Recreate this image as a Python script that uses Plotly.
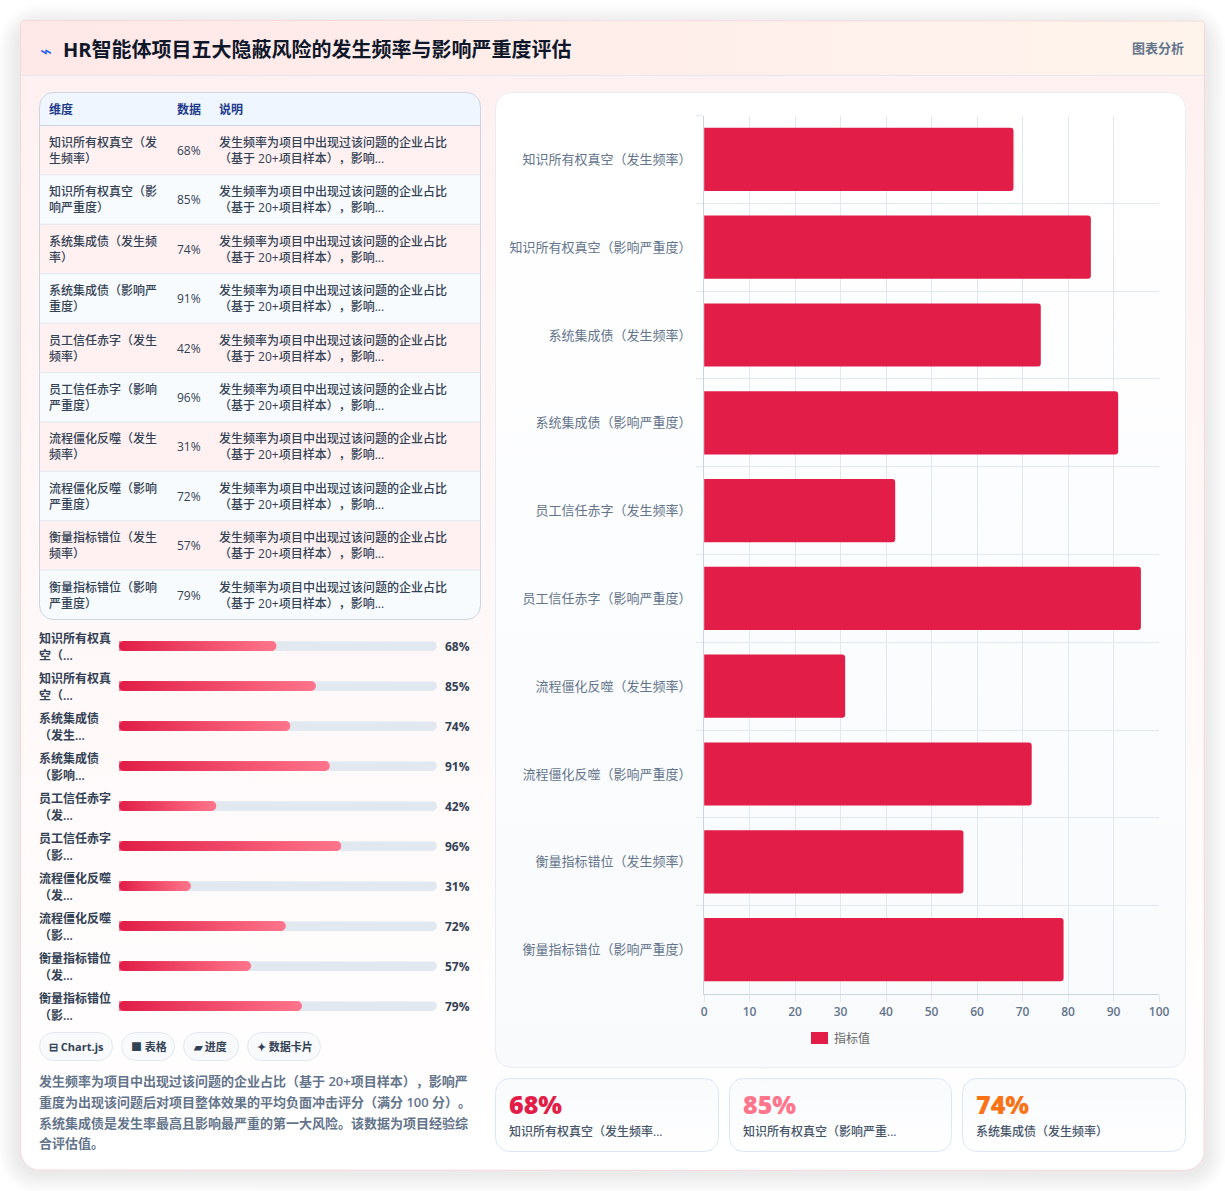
import math
import plotly.graph_objects as go

W, H = 1225, 1191
FONT = "'Open Sans', 'Noto Sans CJK SC', sans-serif"

# ---- data -------------------------------------------------------------
categories = [
    "知识所有权真空\uff08发生频率\uff09", "知识所有权真空\uff08影响严重度\uff09",
    "系统集成债\uff08发生频率\uff09", "系统集成债\uff08影响严重度\uff09",
    "员工信任赤字\uff08发生频率\uff09", "员工信任赤字\uff08影响严重度\uff09",
    "流程僵化反噬\uff08发生频率\uff09", "流程僵化反噬\uff08影响严重度\uff09",
    "衡量指标错位\uff08发生频率\uff09", "衡量指标错位\uff08影响严重度\uff09",
]
values = [68, 85, 74, 91, 42, 96, 31, 72, 57, 79]
table_name_lines = [
    ("知识所有权真空\uff08发", "生频率\uff09"), ("知识所有权真空\uff08影", "响严重度\uff09"),
    ("系统集成债\uff08发生频", "率\uff09"), ("系统集成债\uff08影响严", "重度\uff09"),
    ("员工信任赤字\uff08发生", "频率\uff09"), ("员工信任赤字\uff08影响", "严重度\uff09"),
    ("流程僵化反噬\uff08发生", "频率\uff09"), ("流程僵化反噬\uff08影响", "严重度\uff09"),
    ("衡量指标错位\uff08发生", "频率\uff09"), ("衡量指标错位\uff08影响", "严重度\uff09"),
]
# U+200B keeps the browser from squeezing the adjacent full-width punctuation
note_lines = ("发生频率为项目中出现过该问题的企业占比", "\uff08基于 20+项目样本\uff09\u200b\uff0c影响...")
table_headers = ["维度", "数据", "说明"]
progress_name_lines = [
    ("知识所有权真", "空\uff08..."), ("知识所有权真", "空\uff08..."),
    ("系统集成债", "\uff08发生..."), ("系统集成债", "\uff08影响..."),
    ("员工信任赤字", "\uff08发..."), ("员工信任赤字", "\uff08影..."),
    ("流程僵化反噬", "\uff08发..."), ("流程僵化反噬", "\uff08影..."),
    ("衡量指标错位", "\uff08发..."), ("衡量指标错位", "\uff08影..."),
]
pills = ["⊟ Chart.js", "■ 表格", "▰ 进度", "✦ 数据卡片"]
paragraph = [
    "发生频率为项目中出现过该问题的企业占比\uff08基于 20+项目样本\uff09\u200b\uff0c影响严",
    "重度为出现该问题后对项目整体效果的平均负面冲击评分\uff08满分 100 分\uff09\u200b。",
    "系统集成债是发生率最高且影响最严重的第一大风险。该数据为项目经验综",
    "合评估值。",
]
stat_values = ["68%", "85%", "74%"]
stat_labels = ["知识所有权真空\uff08发生频率...", "知识所有权真空\uff08影响严重...", "系统集成债\uff08发生频率\uff09"]
stat_colors = ["#e11d48", "#ff758c", "#f97316"]
title_text = "HR智能体项目五大隐蔽风险的发生频率与影响严重度评估"
header_tag = "图表分析"
series_name = "指标值"

# The progress track is longer than 100 so a full track reads about 137
PROGRESS_MAX = 137.4

fig = go.Figure()


def rounded(x0, y0, x1, y1, r, rx=None, ry=None):
    """Outline of a rounded box; r = (top-left, top-right, bottom-right, bottom-left) scale."""
    rs = r if isinstance(r, (tuple, list)) else (r, r, r, r)
    sx = rx if rx is not None else 1
    sy = ry if ry is not None else 1
    corners = [
        (x0, y0, rs[0], 180), (x1, y0, rs[1], 270),
        (x1, y1, rs[2], 0), (x0, y1, rs[3], 90),
    ]
    dirs = [(1, 1), (-1, 1), (-1, -1), (1, -1)]
    xs, ys = [], []
    for (cx, cy, c, start), (dx, dy) in zip(corners, dirs):
        if c == 0:
            xs.append(cx)
            ys.append(cy)
            continue
        mx = cx + dx * c * sx
        my = cy + dy * c * sy
        for k in range(9):
            a = math.radians(start + k * 90 / 8)
            xs.append(mx + c * sx * math.cos(a))
            ys.append(my + c * sy * math.sin(a))
    xs.append(xs[0])
    ys.append(ys[0])
    return xs, ys


def panel(x0, y0, x1, y1, r, fill=None, grad=None, line=None, lw=1, xa="x", ya="y", rx=None, ry=None):
    xs, ys = rounded(x0, y0, x1, y1, r, rx, ry)
    tr = dict(
        x=xs, y=ys, xaxis=xa, yaxis=ya, mode="lines", fill="toself",
        line=dict(color=line or "rgba(0,0,0,0)", width=lw if line else 0),
        hoverinfo="skip", showlegend=False,
    )
    if grad:
        kind, c0, c1 = grad
        tr["fillgradient"] = dict(type=kind, colorscale=[[0, c0], [1, c1]])
    else:
        tr["fillcolor"] = fill
    fig.add_trace(go.Scatter(**tr))


notes = []


def text(x, y, s, size=12, color="#334155", weight=400, anchor="left"):
    notes.append(dict(
        x=x, y=y, xref="x", yref="y", text=s, showarrow=False, xanchor=anchor, yanchor="middle",
        font=dict(family=FONT, size=size, color=color, weight=weight), borderpad=0, borderwidth=0,
    ))


# ---- card and shadow --------------------------------------------------
for i in range(10):
    spread = 22 - 2 * i
    panel(20 - spread, 26 - spread, 1205 + spread, 1172 + spread, 20 + spread, fill="rgba(15,23,42,0.006)")
# vertical gradients run bottom to top on the reversed pixel axis
panel(20.5, 20.5, 1204.5, 1170.5, (4, 4, 20, 20), grad=("vertical", "#ffffff", "#fff0f1"), line="#f7d6d9")
panel(21, 21, 1204, 75, (4, 4, 0, 0), grad=("horizontal", "#ffe8e8", "#fff4ec"))
fig.add_shape(type="line", x0=21, x1=1204, y0=75.5, y1=75.5, xref="x", yref="y",
              line=dict(color="#e6e6ee", width=1), layer="above")
text(40, 50, "⌁", size=20, color="#2563eb")
text(63, 49, title_text, size=20, color="#0f172a", weight=700)
text(1184, 48, header_tag, size=13, color="#64748b", weight=600, anchor="right")

# ---- table ------------------------------------------------------------
TABLE_L, TABLE_R, TABLE_T, HEAD_B, ROW_H = 39.5, 480.5, 92.5, 125.5, 49.4
COLS = [49, 177, 219]
panel(TABLE_L, TABLE_T, TABLE_R, HEAD_B, (14, 14, 0, 0), fill="#eff6ff")
for i in range(len(categories)):
    top = HEAD_B + i * ROW_H
    bottom = top + ROW_H
    last = i == len(categories) - 1
    panel(TABLE_L, top, TABLE_R, bottom, (0, 0, 14, 14) if last else 0,
          fill="#fff1f1" if i % 2 == 0 else "#f8fbfd")
    fig.add_shape(type="line", x0=TABLE_L, x1=TABLE_R, y0=top, y1=top, xref="x", yref="y",
                  line=dict(color="#cbd5e1" if i == 0 else "#e2e8f0", width=1), layer="above")
    text(COLS[0], top + 17, table_name_lines[i][0], weight=500)
    text(COLS[0], top + 33, table_name_lines[i][1], weight=500)
    text(COLS[1], top + 25, f"{values[i]}%", weight=500)
    text(COLS[2], top + 17, note_lines[0], weight=500)
    text(COLS[2], top + 33, note_lines[1], weight=500)
panel(TABLE_L, TABLE_T, TABLE_R, HEAD_B + 10 * ROW_H, 14, fill="rgba(0,0,0,0)", line="#cbd5e1")
for cx, label in zip(COLS, table_headers):
    text(cx, 109.5, label, color="#1e3a8a", weight=700)

# ---- progress rows ----------------------------------------------------
ROW_TOP, ROW_STEP = 646, 40
for i in range(len(categories)):
    cy = ROW_TOP + i * ROW_STEP
    panel(119, cy - 5, 437, cy + 5, 5, fill="#e2e8f0")
    text(39, cy - 8, progress_name_lines[i][0], weight=600)
    text(39, cy + 9, progress_name_lines[i][1], weight=600)
    text(445, cy + 0.5, f"{values[i]}%", weight=700)

# ---- pills and paragraph ----------------------------------------------
for (x0, x1), label in zip([(39, 113), (121, 175), (183, 239), (247, 321)], pills):
    panel(x0 + .5, 1032.5, x1 - .5, 1060.5, 14, fill="#f8fafc", line="#e2e8f0")
    text(x0 + 10, 1046, label, size=11, weight=700)
for i, line_text in enumerate(paragraph):
    text(39, 1081 + i * 20.8, line_text, size=13, color="#64748b", weight=600)

# ---- main chart panel and stat cards ----------------------------------
panel(495.5, 92.5, 1185.5, 1067.5, 16, grad=("vertical", "#f8fafc", "#ffffff"), line="#e8edf3")
for x0, x1, num, lab, col in zip((495.5, 729.5, 962.5), (718.5, 951.5, 1185.5), stat_values, stat_labels, stat_colors):
    panel(x0, 1078.5, x1, 1151.5, 14, grad=("vertical", "#ffffff", "#f8fafc"), line="#dbe7f5")
    text(x0 + 13.5, 1104, num, size=25, color=col, weight=800)
    text(x0 + 13.5, 1131.5, lab, size=12, color="#475569", weight=500)

# ---- horizontal bar chart ---------------------------------------------
fig.add_trace(go.Bar(
    y=categories, x=values, orientation="h", name=series_name, xaxis="x2", yaxis="y2",
    marker=dict(color="#e11d48", cornerradius=3, line=dict(width=0)), showlegend=False,
))
# legend key for the single series
fig.add_shape(type="rect", x0=811, x1=828, y0=1032, y1=1044, xref="x", yref="y",
              fillcolor="#e11d48", line=dict(width=0), layer="above")
text(834, 1038, series_name, size=12, color="#666666")

# ---- progress fills ---------------------------------------------------
progress_rows = list(range(len(values)))
fig.add_trace(go.Bar(
    y=progress_rows, x=values, orientation="h", width=0.25, xaxis="x3", yaxis="y3",
    marker=dict(color="#ff758c", cornerradius=5, line=dict(width=0)), showlegend=False, hoverinfo="skip",
))
UNIT_X = PROGRESS_MAX / 318
UNIT_Y = 1 / 40
for row, v in zip(progress_rows, values):
    panel(0, row - 0.125, v, row + 0.125, 5, grad=("horizontal", "#e11d48", "#ff758c"),
          xa="x3", ya="y3", rx=UNIT_X, ry=UNIT_Y)

axis_hidden = dict(visible=False, showgrid=False, zeroline=False, fixedrange=True)
fig.update_layout(
    width=W, height=H, margin=dict(l=0, r=0, t=0, b=0, pad=0, autoexpand=False),
    paper_bgcolor="#ffffff", plot_bgcolor="rgba(0,0,0,0)",
    font=dict(family=FONT), bargap=0.28, annotations=notes, hovermode="closest", showlegend=False,
    xaxis=dict(axis_hidden, domain=[0, 1], range=[0, W]),
    yaxis=dict(axis_hidden, domain=[0, 1], range=[H, 0]),
    xaxis2=dict(
        domain=[704.1 / W, 1159.1 / W], range=[0, 100], dtick=10, anchor="y2",
        showgrid=True, gridcolor="#e2e8f0", gridwidth=1, zeroline=False,
        showline=True, linecolor="#cbd5e1", linewidth=1,
        ticks="outside", ticklen=7, tickcolor="#e2e8f0", tickwidth=1,
        tickfont=dict(family=FONT, size=12, color="#64748b", weight=600), fixedrange=True,
    ),
    yaxis2=dict(
        domain=[1 - 993.5 / H, 1 - 115.5 / H], anchor="x2", type="category",
        categoryorder="array", categoryarray=categories, autorange="reversed",
        tickson="boundaries", showgrid=True, gridcolor="#e2e8f0", gridwidth=1,
        showline=True, linecolor="#cbd5e1", linewidth=1,
        ticks="outside", ticklen=7, tickcolor="#e2e8f0", tickwidth=1, ticklabelstandoff=9,
        tickfont=dict(family=FONT, size=13, color="#64748b"), fixedrange=True,
    ),
    xaxis3=dict(axis_hidden, domain=[119 / W, 437 / W], range=[0, PROGRESS_MAX], anchor="y3"),
    yaxis3=dict(axis_hidden, domain=[1 - 1026 / H, 1 - 626 / H], range=[9.5, -0.5], anchor="x3"),
)

fig.write_html("out.html", config={"displayModeBar": False})
